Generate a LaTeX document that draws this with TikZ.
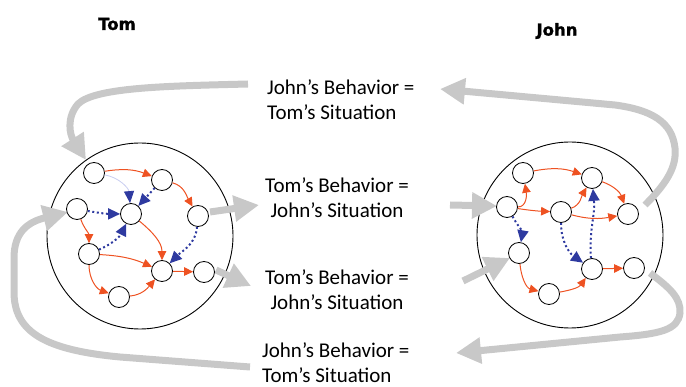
\documentclass[tikz,border=0pt]{standalone}
\usepackage{fontspec}
\setmainfont{Carlito}
\newfontfamily\titlefont[BoldFeatures={FakeBold=1.5}]{DejaVu Sans}
\usetikzlibrary{arrows.meta}
\definecolor{og}{RGB}{238,82,34}
\definecolor{bl}{RGB}{46,58,160}
\definecolor{lav}{RGB}{200,205,240}
\definecolor{gr}{RGB}{200,200,200}
\tikzset{
  sm/.style={circle,draw,fill=white,line width=0.8pt,minimum size=21pt,inner sep=0pt},
  big/.style={circle,draw,line width=0.9pt,minimum size=186pt,inner sep=0pt},
  oa/.style={og,line width=1pt,-{Triangle[length=9pt,width=8.5pt]}},
  ba/.style={bl,line width=2pt,dash pattern=on 2pt off 2.6pt,-{Triangle[length=12pt,width=11pt]}},
  la/.style={lav,line width=0.8pt,-{Triangle[length=12pt,width=10pt,color=bl]}},
  ga/.style={gr,line width=7pt,-{Triangle[length=25pt,width=25pt]}},
  lbl/.style={font=\fontsize{21}{25}\selectfont,inner sep=0pt},
  ttl/.style={font=\fontsize{16.5}{20}\titlefont\bfseries,inner sep=0pt}
}
\begin{document}
\begin{tikzpicture}[x=1pt,y=-1pt]
\useasboundingbox (0,0) rectangle (686,387);
% titles
\node[ttl] (tomt) at (117,24) {Tom};
\node[ttl] (johnt) at (557,31) {John};
% labels
\node[lbl,align=left,anchor=west] (t1) at (267,100) {John’s Behavior =\\Tom’s Situation};
\node[lbl,align=center] (t2) at (337,198) {Tom’s Behavior =\\John’s Situation};
\node[lbl,align=center] (t3) at (337,290) {Tom’s Behavior =\\John’s Situation};
\node[lbl,align=left,anchor=west] (t4) at (262,363) {John’s Behavior =\\Tom’s Situation};
% big circles
\node[big] (L) at (140,236) {};
\node[big] (R) at (570,235) {};
% gray feedback arrows
\coordinate (g1s) at (248,84);
\coordinate (g1e) at (86,160);
\draw[ga] (g1s) .. controls (170,86) and (95,87) .. (78,104) .. controls (66,118) and (70,135) .. (g1e);
\coordinate (g2s) at (645,205);
\coordinate (g2e) at (440,89);
\draw[ga] (g2s) .. controls (665,185) and (677,168) .. (675,148) .. controls (672,122) and (652,110) .. (615,105) -- (g2e);
\coordinate (g3s) at (210,212);
\coordinate (g3e) at (259,205);
\draw[ga] (g3s) -- (g3e);
\coordinate (g4s) at (216,270);
\coordinate (g4e) at (251,286);
\draw[ga] (g4s) -- (g4e);
\coordinate (g5s) at (450,205);
\coordinate (g5e) at (497,206);
\draw[ga] (g5s) -- (g5e);
\coordinate (g6s) at (463,281);
\coordinate (g6e) at (510,258);
\draw[ga] (g6s) -- (g6e);
\coordinate (g7s) at (650,273);
\coordinate (g7e) at (456,353);
\draw[ga] (g7s) .. controls (670,288) and (681,298) .. (680,313) .. controls (678,330) and (660,334) .. (620,337) -- (g7e);
\coordinate (g8s) at (250,367);
\coordinate (g8e) at (68,212);
\draw[ga] (g8s) -- (120,357) .. controls (45,350) and (14,332) .. (14,292) -- (14,258) .. controls (14,232) and (28,222) .. (g8e);
% left network
\node[sm] (LA) at (94,173) {};
\node[sm] (LB) at (162,180) {};
\node[sm] (LC) at (77,209) {};
\node[sm] (LD) at (131,214) {};
\node[sm] (LE) at (198,216) {};
\node[sm] (LF) at (89,254) {};
\node[sm] (LG) at (162,271) {};
\node[sm] (LH) at (204,272) {};
\node[sm] (LI) at (119,297) {};
\draw[oa] (LA) to[bend left=15] (LB);
\draw[la] (LA) to[out=-10,in=95] (LD);
\draw[ba] (LB) -- (LD);
\draw[oa] (LB) to[out=-15,in=120] (LE);
\draw[ba] (LC) to[bend right=5] (LD);
\draw[oa] (LC) to[out=-70,in=90] (LF);
\draw[ba] (LF) to[bend right=20] (LD);
\draw[oa] (LD) to[out=-40,in=90] (LG);
\draw[ba] (LE) to[out=-95,in=45] (LG);
\draw[oa] (LF) to[bend left=10] (LG);
\draw[oa] (LF) to[out=-90,in=160] (LI);
\draw[oa] (LI) to[out=5,in=-130] (LG);
\draw[oa] (LG) -- (LH);
% right network
\node[sm] (RA) at (523,173) {};
\node[sm] (RB) at (592,178) {};
\node[sm] (RC) at (507,207) {};
\node[sm] (RD) at (561,212) {};
\node[sm] (RE) at (628,214) {};
\node[sm] (RF) at (519,253) {};
\node[sm] (RG) at (592,269) {};
\node[sm] (RH) at (634,268) {};
\node[sm] (RI) at (549,294) {};
\draw[oa] (RC) to[out=0,in=-80] (RA);
\draw[oa] (RA) to[bend left=15] (RB);
\draw[oa] (RB) to[out=-20,in=110] (RE);
\draw[oa] (RC) to[bend right=3] (RD);
\draw[ba] (RC) to[out=-60,in=80] (RF);
\draw[oa] (RD) to[out=20,in=-120] (RB);
\draw[oa] (RD) to[out=-15,in=190] (RE);
\draw[ba] (RD) to[out=-90,in=145] (RG);
\draw[ba] (RG) to[out=95,in=-85] (RB);
\draw[oa] (RF) to[out=-85,in=165] (RI);
\draw[oa] (RI) to[out=10,in=-125] (RG);
\draw[oa] (RG) -- (RH);
\end{tikzpicture}
\end{document}
